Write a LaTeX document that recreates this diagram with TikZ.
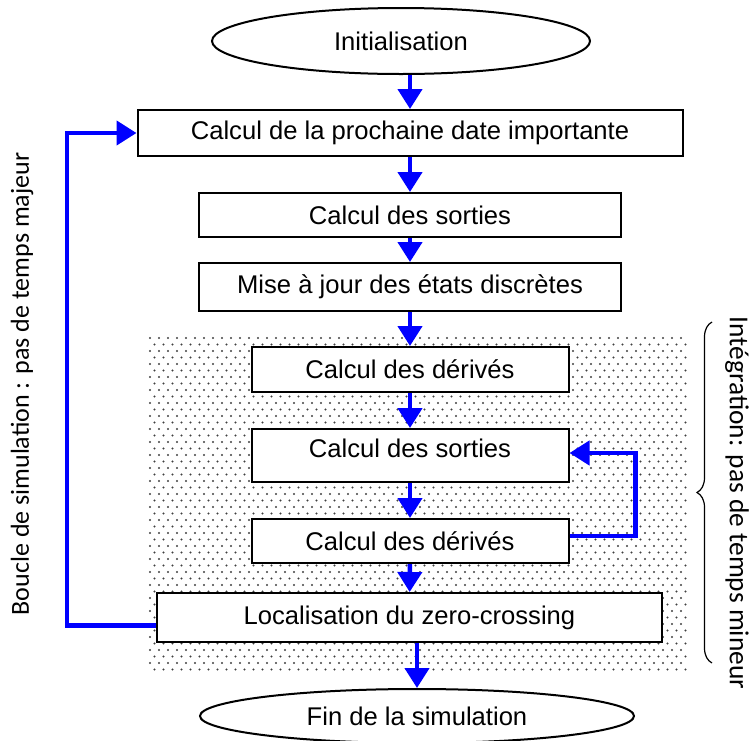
\documentclass[tikz,border=0pt]{standalone}
\usepackage{fontspec}
\setmainfont{Liberation Sans}
\newfontfamily\sidefont{Carlito}
\usetikzlibrary{shapes.geometric,arrows.meta,decorations.pathreplacing}

\begin{document}
\begin{tikzpicture}[x=0.5pt, y=-0.5pt,
  box/.style={draw, line width=1pt, fill=white, inner sep=0pt},
  term/.style={draw, ellipse, line width=1pt, fill=white, inner sep=0pt},
  flow/.style={blue, line width=2.2pt, -{Triangle[width=12pt,length=10pt]}},
  sidetext/.style={font=\sidefont\fontsize{13}{15}\selectfont},
  font=\fontsize{12.8}{15}\selectfont]
\useasboundingbox (0,0) rectangle (755,740);

% Dotted zone: minor time step
\foreach \r in {0,...,51}{
  \pgfmathsetmacro{\off}{mod(\r,2)*4.5}
  \foreach \c in {0,...,59}{
    \fill[black!75] (150+\off+9*\c, 338+6.5*\r) circle (0.6pt);
  }
}

% Start and end
\node[term, minimum width=189pt, minimum height=33pt] (init) at (401,41) {Initialisation};
\node[term, minimum width=217pt, minimum height=27pt] (fin) at (417,716) {Fin de la simulation};

% Major step
\node[box, minimum width=272.5pt, minimum height=23pt] (b1) at (410,133) {Calcul de la prochaine date importante};
\node[box, minimum width=211pt, minimum height=22pt] (b2) at (410,215) {Calcul des sorties};
\node[box, minimum width=211pt, minimum height=24pt] (b3) at (410,287) {Mise à jour des états discrètes};

% Minor step
\node[box, minimum width=158.5pt, minimum height=22.5pt] (b4) at (410,369.5) {Calcul des dérivés};
\node[box, minimum width=158.5pt, minimum height=26.5pt, text depth=7pt] (b5) at (410,455.5) {Calcul des sorties};
\node[box, minimum width=158.5pt, minimum height=22pt] (b6) at (410,541) {Calcul des dérivés};
\node[box, minimum width=252.5pt, minimum height=24.5pt] (b7) at (409.5,617.5) {Localisation du zero-crossing};

% Side labels
\node[sidetext, rotate=90] (major) at (22,384) {Boucle de simulation : pas de temps majeur};
\node[sidetext, rotate=-90, font=\sidefont\fontsize{13.7}{16}\selectfont] (minor) at (737,503) {Intégration: pas de temps mineur};

% Brace
\coordinate (bbot) at (712,663);
\coordinate (btop) at (712,322);
\draw[line width=0.6pt, decorate, decoration={brace, amplitude=7.5pt}] (bbot) -- (btop);

% Arrows
\draw[flow] (init.south -| b1.north) -- (b1.north);
\draw[flow] (b1) -- (b2);
\draw[flow] (b2) -- (b3);
\draw[flow] (b3) -- (b4);
\draw[flow] (b4) -- (b5);
\draw[flow] (b5) -- (b6);
\draw[flow] (b6) -- (b7);
\draw[flow] (b7.south -| fin.north) -- (fin.north);

% Loops
\draw[flow] ([yshift=2.5pt]b6.east) -- ++(66,0) |- ([yshift=1.25pt]b5.east);
\draw[flow] ([yshift=-4pt]b7.west) -- ++(-89,0) |- (b1.west);
\end{tikzpicture}
\end{document}
